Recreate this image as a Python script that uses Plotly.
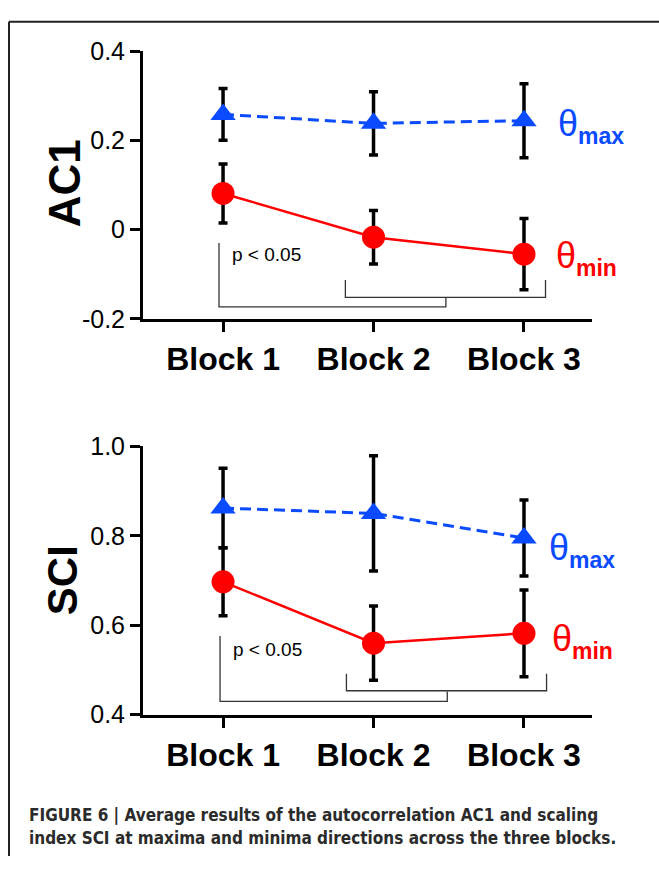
import plotly.graph_objects as go

# Block categories
blocks = ["Block 1", "Block 2", "Block 3"]
block_pos = [1, 2, 3]

# AC1 (autocorrelation) means and error half-widths
ac1_max = [0.258, 0.238, 0.244]
ac1_max_err = [0.058, 0.071, 0.083]
ac1_min = [0.081, -0.017, -0.055]
ac1_min_err = [0.066, 0.060, 0.080]

# SCI (scaling index) means and error half-widths
sci_max = [0.862, 0.850, 0.795]
sci_max_err = [0.089, 0.129, 0.085]
sci_min = [0.697, 0.560, 0.582]
sci_min_err = [0.076, 0.083, 0.097]

# Tick labels
ac1_ticks = [0.4, 0.2, 0, -0.2]
ac1_ticktext = ["0.4", "0.2", "0", "-0.2"]
sci_ticks = [1.0, 0.8, 0.6, 0.4]
sci_ticktext = ["1.0", "0.8", "0.6", "0.4"]

BLUE = "#0a4bff"
RED = "#ff0000"
W, H = 659, 870
FONT = "Liberation Sans, Arial, sans-serif"


def px_x(p):
    return p / W


def px_y(p):
    return 1 - p / H


fig = go.Figure()


def add_panel(xa, ya, vmax, emax, vmin, emin):
    fig.add_trace(go.Scatter(
        x=block_pos, y=vmax, xaxis=xa, yaxis=ya, mode="lines+markers",
        line=dict(color=BLUE, width=3, dash="11px,6px"),
        marker=dict(symbol="triangle-up", size=22, color=BLUE),
        error_y=dict(type="data", array=emax, color="black", thickness=3.5, width=4.5),
        showlegend=False, cliponaxis=False,
    ))
    fig.add_trace(go.Scatter(
        x=block_pos, y=vmin, xaxis=xa, yaxis=ya, mode="lines+markers",
        line=dict(color=RED, width=2.5),
        marker=dict(symbol="circle", size=23, color=RED),
        error_y=dict(type="data", array=emin, color="black", thickness=3.5, width=4.5),
        showlegend=False, cliponaxis=False,
    ))


add_panel("x", "y", ac1_max, ac1_max_err, ac1_min, ac1_min_err)
add_panel("x2", "y2", sci_max, sci_max_err, sci_min, sci_min_err)

xdom = [px_x(143), px_x(592)]
xcommon = dict(
    range=[0.468, 3.452], tickvals=block_pos, ticktext=blocks,
    showline=True, linewidth=3, linecolor="black",
    ticks="outside", ticklen=10, tickwidth=3, tickcolor="black",
    tickfont=dict(family=FONT, size=32, color="black", weight="bold"),
    showgrid=False, zeroline=False, domain=xdom,
)
ycommon = dict(
    showline=True, linewidth=3, linecolor="black",
    ticks="outside", ticklen=10, tickwidth=3, tickcolor="black",
    tickfont=dict(family=FONT, size=25, color="black"),
    showgrid=False, zeroline=False,
)

fig.update_layout(
    width=W, height=H,
    margin=dict(l=0, r=0, t=0, b=0),
    paper_bgcolor="white", plot_bgcolor="white",
    xaxis=dict(xcommon, anchor="y"),
    yaxis=dict(ycommon, range=[-0.2, 0.4], tickvals=ac1_ticks, ticktext=ac1_ticktext,
               domain=[px_y(315), px_y(38.3)], anchor="x"),
    xaxis2=dict(xcommon, anchor="y2"),
    yaxis2=dict(ycommon, range=[0.4, 1.0], tickvals=sci_ticks, ticktext=sci_ticktext,
                domain=[px_y(724), px_y(446.7)], anchor="x2"),
)

# Significance brackets
BR = dict(color="#333333", width=1.3)


def bracket(xr, yr, x0, x1, x2, x3, ytop1, ybot1, ystub, ytop2, ybot2):
    # long bracket: Block 1 down to the midpoint of the second bracket
    fig.add_shape(type="path", xref=xr, yref=yr,
                  path=f"M {x0},{ytop1} L {x0},{ybot1} L {x1},{ybot1} L {x1},{ystub}",
                  line=BR)
    # short bracket spanning Block 2 to Block 3
    fig.add_shape(type="path", xref=xr, yref=yr,
                  path=f"M {x2},{ytop2} L {x2},{ybot2} L {x3},{ybot2} L {x3},{ytop2}",
                  line=BR)


bracket("x", "y", 0.973, 2.481, 1.813, 3.143, -0.030, -0.173, -0.153, -0.113, -0.152)
bracket("x2", "y2", 0.98, 2.49, 1.82, 3.15, 0.576, 0.430, 0.452, 0.4916, 0.4535)

annotations = [
    dict(text="p < 0.05", xref="x", yref="y", x=1.044, y=-0.055, xanchor="left",
         yanchor="middle", showarrow=False, font=dict(family=FONT, size=19, color="black")),
    dict(text="p < 0.05", xref="x2", yref="y2", x=1.055, y=0.546, xanchor="left",
         yanchor="middle", showarrow=False, font=dict(family=FONT, size=19, color="black")),
    # Axis titles
    dict(text="<b>AC1</b>", xref="paper", yref="paper", x=px_x(64), y=px_y(175),
         xanchor="center", yanchor="middle",
         textangle=-90, showarrow=False, font=dict(family=FONT, size=44, color="black")),
    dict(text="<b>SCI</b>", xref="paper", yref="paper", x=px_x(62), y=px_y(585),
         xanchor="center", yanchor="middle",
         textangle=-90, showarrow=False, font=dict(family=FONT, size=42, color="black")),
]

# Series labels
for lx, ly, sub, col in [(555.6, 116, "max", BLUE), (553.8, 252, "min", RED),
                         (546.7, 554, "max", BLUE), (550.3, 648, "min", RED)]:
    annotations.append(dict(
        text=f"θ<sub><span style='font-size:23px'><b>{sub}</b></span></sub>",
        xref="paper", yref="paper",
        x=px_x(lx), y=px_y(ly), xanchor="left", yanchor="middle", showarrow=False,
        font=dict(family=FONT, size=36, color=col)))

# Figure caption
CAP = "DejaVu Sans Condensed, Liberation Sans Narrow, sans-serif"
for txt, cy in [("FIGURE 6 | Average results of the autocorrelation AC1 and scaling", 828),
                ("index SCI at maxima and minima directions across the three blocks.", 851)]:
    annotations.append(dict(
        text=f"<b>{txt}</b>", xref="paper", yref="paper", x=px_x(27), y=px_y(cy),
        xanchor="left", yanchor="middle", showarrow=False,
        font=dict(family=CAP, size=17, color="#2b2b2b")))

fig.update_layout(annotations=annotations)

# Frame lines along the top and left edges
fig.add_shape(type="line", xref="paper", yref="paper", x0=px_x(9), x1=1,
              y0=px_y(8), y1=px_y(8), line=dict(color="#222222", width=2))
fig.add_shape(type="line", xref="paper", yref="paper", x0=px_x(9), x1=px_x(9),
              y0=0, y1=px_y(8), line=dict(color="#222222", width=2))

fig.write_html("out.html")
